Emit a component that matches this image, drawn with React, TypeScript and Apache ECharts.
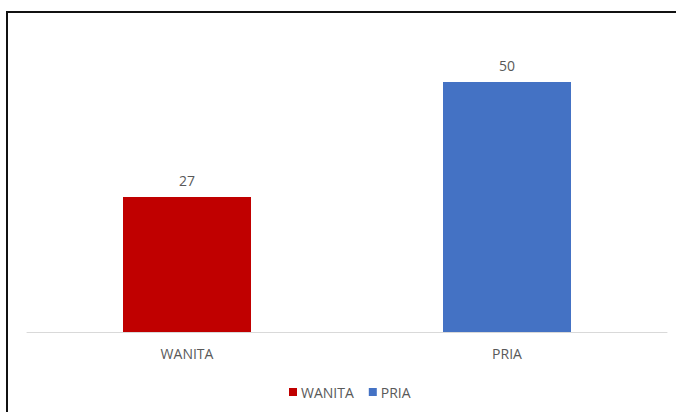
import React, { useEffect, useRef } from "react";
import * as echarts from "echarts";

const categories = ["WANITA", "PRIA"];
const values = [27, 50];
const colors = ["#C00000", "#4472C4"];

export default function App() {
  const ref = useRef<HTMLDivElement>(null);
  useEffect(() => {
    if (!ref.current) return;
    const chart = echarts.init(ref.current, undefined, { renderer: "svg" });
    const font = "'Open Sans', 'Liberation Sans', sans-serif";
    chart.setOption({
      animation: false,
      backgroundColor: "#ffffff",
      textStyle: { fontFamily: font },
      graphic: [
        {
          type: "rect",
          shape: { x: 7, y: 12, width: 720, height: 460 },
          style: { fill: "none", stroke: "#111111", lineWidth: 2 },
          silent: true,
        },
      ],
      legend: {
        left: 284,
        top: 380,
        itemWidth: 8,
        itemHeight: 8,
        itemGap: 15,
        icon: "rect",
        textStyle: { color: "#595959", fontSize: 14, fontFamily: font, padding: [0, 0, 0, -1] },
        data: categories,
      },
      grid: { left: 27, right: 9, top: 32, bottom: 80, containLabel: false },
      xAxis: {
        type: "category",
        data: categories,
        axisLine: { lineStyle: { color: "#d9d9d9", width: 1 } },
        axisTick: { show: false },
        axisLabel: { color: "#595959", fontSize: 14, margin: 14, fontFamily: font },
      },
      yAxis: {
        type: "value",
        min: 0,
        max: 60,
        show: false,
        splitLine: { show: false },
      },
      series: categories.map((c, i) => ({
        name: c,
        type: "bar",
        stack: "total",
        barWidth: "40%",
        data: categories.map((_, j) => (j === i ? values[i] : "-")),
        itemStyle: { color: colors[i] },
        label: {
          show: true,
          position: "top",
          distance: 10,
          color: "#595959",
          fontSize: 14,
          fontFamily: font,
        },
      })),
    });
    return () => chart.dispose();
  }, []);
  return (
    <div
      ref={ref}
      style={{ position: "absolute", left: 0, top: 0, width: 676, height: 412 }}
    />
  );
}
